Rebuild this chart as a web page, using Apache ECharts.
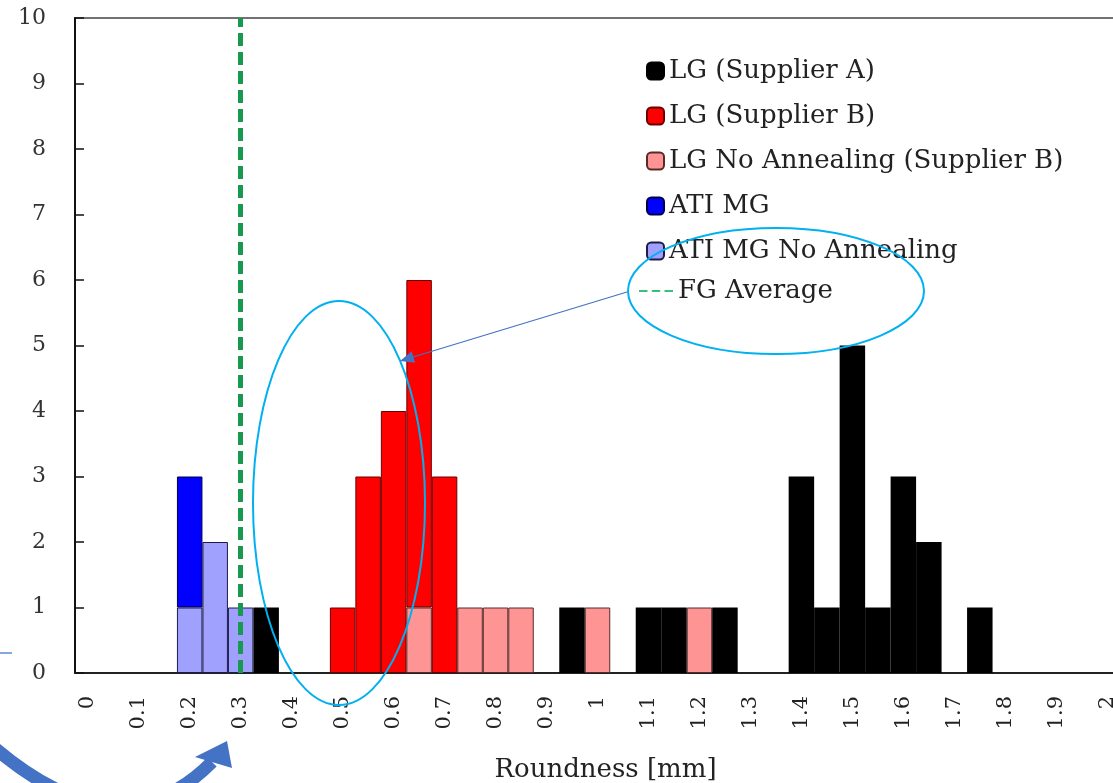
<!DOCTYPE html>
<html>
<head>
<meta charset="utf-8">
<script src="https://cdn.jsdelivr.net/npm/echarts@6/dist/echarts.min.js"></script>
<style>
  html, body { margin: 0; padding: 0; background: #fff; }
  #main { width: 1113px; height: 783px; }
</style>
</head>
<body>
<div id="main"></div>
<script>
// roundness bins (mm), 0.05 wide
var bins = ['0', '0.05', '0.1', '0.15', '0.2', '0.25', '0.3', '0.35', '0.4', '0.45',
            '0.5', '0.55', '0.6', '0.65', '0.7', '0.75', '0.8', '0.85', '0.9', '0.95',
            '1', '1.05', '1.1', '1.15', '1.2', '1.25', '1.3', '1.35', '1.4', '1.45',
            '1.5', '1.55', '1.6', '1.65', '1.7', '1.75', '1.8', '1.85', '1.9', '1.95', '2'];

// counts per bin
var lgSupplierA   = [0,0,0,0,0,0,0,1,0,0, 0,0,0,0,0,0,0,0,0,1, 0,0,1,1,0,1,0,0,3,1, 5,1,3,2,0,1,0,0,0,0, 0];
var lgSupplierB   = [0,0,0,0,0,0,0,0,0,0, 1,3,4,5,3,0,0,0,0,0, 0,0,0,0,0,0,0,0,0,0, 0,0,0,0,0,0,0,0,0,0, 0];
var lgNoAnnealB   = [0,0,0,0,0,0,0,0,0,0, 0,0,0,1,0,1,1,1,0,0, 1,0,0,0,1,0,0,0,0,0, 0,0,0,0,0,0,0,0,0,0, 0];
var atiMG         = [0,0,0,0,2,0,0,0,0,0, 0,0,0,0,0,0,0,0,0,0, 0,0,0,0,0,0,0,0,0,0, 0,0,0,0,0,0,0,0,0,0, 0];
var atiMGNoAnneal = [0,0,0,0,1,2,1,0,0,0, 0,0,0,0,0,0,0,0,0,0, 0,0,0,0,0,0,0,0,0,0, 0,0,0,0,0,0,0,0,0,0, 0];

var fgAverage = '0.3';
var yTicks = [0, 10, 1]; // min, max, interval

var serif = 'DejaVu Serif';

function zeroToGap(arr) {
  return arr.map(function (v) { return v === 0 ? '-' : v; });
}

var chart = echarts.init(document.getElementById('main'));

var legendText = { fontFamily: serif, fontSize: 26, color: '#222', lineHeight: 28 };

var option = {
  animation: false,
  backgroundColor: '#fff',
  grid: {
    left: 75, width: 1045, top: 18, bottom: 110,
    outerBoundsMode: 'none',
    containLabel: false,
    show: true, borderColor: '#444', borderWidth: 1.5
  },
  legend: [{
    orient: 'vertical',
    left: 641, top: 52,
    itemWidth: 17, itemHeight: 17,
    itemGap: 17,
    selectedMode: false,
    textStyle: legendText,
    data: ['LG (Supplier A)', 'LG (Supplier B)', 'LG No Annealing (Supplier B)', 'ATI MG', 'ATI MG No Annealing']
  }, {
    orient: 'vertical',
    left: 634, top: 272,
    itemWidth: 34, itemHeight: 3,
    selectedMode: false,
    textStyle: legendText,
    data: [{ name: 'FG Average', icon: 'path://M0,0h8v2h-8z M12,0h8v2h-8z M24,0h8v2h-8z' }]
  }],
  xAxis: {
    type: 'category',
    data: bins,
    boundaryGap: true,
    name: 'Roundness [mm]',
    nameLocation: 'middle',
    nameGap: 84,
    nameTextStyle: { fontFamily: serif, fontSize: 26, color: '#222', padding: [0, 0, 0, 16] },
    axisLine: { lineStyle: { color: '#222', width: 2 } },
    axisTick: { inside: true, length: 8, interval: 0, lineStyle: { color: '#222', width: 1.5 } },
    axisLabel: {
      interval: 1, rotate: 90, margin: 23,
      fontFamily: serif, fontSize: 21, color: '#222'
    },
    splitLine: { show: false }
  },
  yAxis: {
    type: 'value',
    min: yTicks[0], max: yTicks[1], interval: yTicks[2],
    axisLine: { show: true, lineStyle: { color: '#111', width: 2 } },
    axisTick: { show: true, inside: true, length: 9, lineStyle: { color: '#111', width: 1.5 } },
    axisLabel: { margin: 29, fontFamily: serif, fontSize: 22, color: '#333' },
    splitLine: { show: false }
  },
  series: [
    {
      name: 'LG No Annealing (Supplier B)', type: 'bar', stack: 'n', barCategoryGap: 0,
      itemStyle: { color: '#ff9494', borderColor: '#5a2a2a', borderWidth: 1 },
      data: zeroToGap(lgNoAnnealB)
    },
    {
      name: 'LG (Supplier B)', type: 'bar', stack: 'n', barCategoryGap: 0,
      itemStyle: { color: '#ff0000', borderColor: '#6a0000', borderWidth: 1 },
      data: zeroToGap(lgSupplierB)
    },
    {
      name: 'ATI MG No Annealing', type: 'bar', stack: 'n', barCategoryGap: 0,
      itemStyle: { color: '#a0a0ff', borderColor: '#1c1c4a', borderWidth: 1 },
      data: zeroToGap(atiMGNoAnneal)
    },
    {
      name: 'ATI MG', type: 'bar', stack: 'n', barCategoryGap: 0,
      itemStyle: { color: '#0000ff', borderColor: '#00004a', borderWidth: 1 },
      data: zeroToGap(atiMG)
    },
    {
      name: 'LG (Supplier A)', type: 'bar', stack: 'n', barCategoryGap: 0,
      itemStyle: { color: '#000000', borderColor: '#000000', borderWidth: 2 },
      data: zeroToGap(lgSupplierA)
    },
    {
      name: 'FG Average', type: 'line', symbol: 'none',
      itemStyle: { color: '#3cbf7a' },
      lineStyle: { color: '#3cbf7a', width: 2, type: [8, 4] },
      data: [],
      markLine: {
        silent: true,
        symbol: 'none',
        label: { show: false },
        lineStyle: { color: '#17994f', width: 5, type: [13, 6] },
        data: [{ xAxis: fgAverage }]
      }
    }
  ],
  graphic: [
    {
      type: 'ellipse', z: 100,
      shape: { cx: 339, cy: 503, rx: 86, ry: 202 },
      style: { fill: null, stroke: '#00b0f0', lineWidth: 2 }
    },
    {
      type: 'ellipse', z: 100,
      shape: { cx: 776, cy: 291, rx: 148, ry: 63 },
      style: { fill: null, stroke: '#00b0f0', lineWidth: 2 }
    },
    {
      type: 'line', z: 100,
      shape: { x1: 627, y1: 292, x2: 413, y2: 357 },
      style: { stroke: '#4472c4', lineWidth: 1.2 }
    },
    {
      type: 'polygon', z: 100,
      shape: { points: [[400, 361], [411.7, 351.3], [415.1, 362.7]] },
      style: { fill: '#4472c4' }
    },
    {
      type: 'line', z: 100,
      shape: { x1: 0, y1: 653, x2: 12, y2: 653 },
      style: { stroke: '#5b8bd6', lineWidth: 1.5 }
    },
    {
      type: 'bezierCurve', z: 100,
      shape: { x1: -20, y1: 735, cpx1: 115, cpy1: 860, x2: 212, y2: 762 },
      style: { fill: null, stroke: '#4472c4', lineWidth: 13 }
    },
    {
      type: 'polygon', z: 100,
      shape: { points: [[227, 741], [195, 757], [232, 768]] },
      style: { fill: '#4472c4' }
    }
  ]
};

chart.setOption(option);
</script>
</body>
</html>
